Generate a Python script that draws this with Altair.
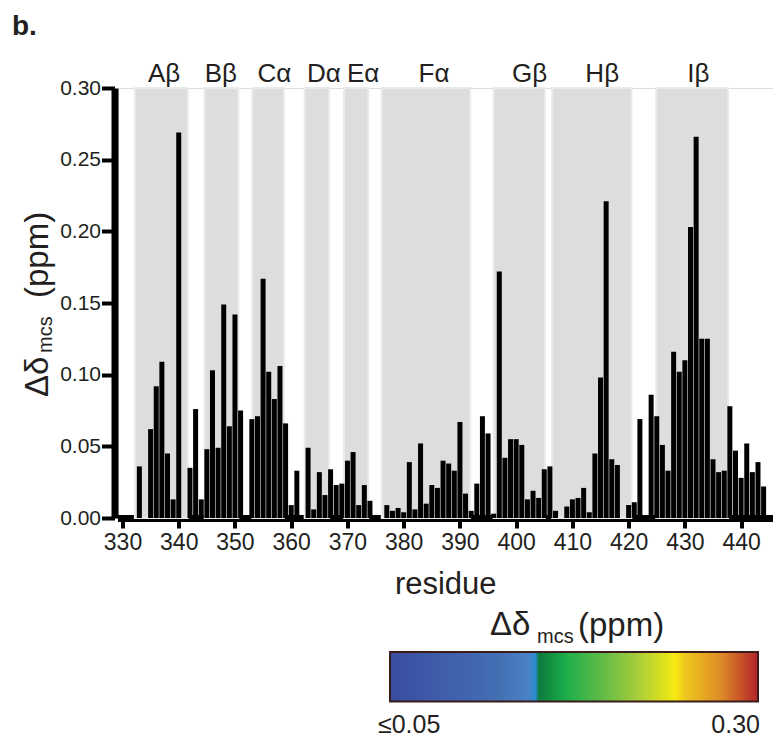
import altair as alt
import pandas as pd

# ---------------- data ----------------
residues = list(range(333, 445))
shifts = [
    0.036, 0.000, 0.062, 0.092, 0.109, 0.045, 0.013, 0.269, 0.000, 0.035,   # 333-342
    0.076, 0.013, 0.048, 0.103, 0.049, 0.149, 0.064, 0.142, 0.075, 0.000,   # 343-352
    0.069, 0.071, 0.167, 0.102, 0.083, 0.106, 0.066, 0.009, 0.033, 0.000,   # 353-362
    0.049, 0.006, 0.032, 0.016, 0.034, 0.023, 0.024, 0.040, 0.046, 0.009,   # 363-372
    0.023, 0.012, 0.000, 0.000, 0.009, 0.005, 0.007, 0.004, 0.039, 0.006,   # 373-382
    0.052, 0.010, 0.023, 0.021, 0.040, 0.038, 0.033, 0.067, 0.017, 0.005,   # 383-392
    0.024, 0.071, 0.059, 0.003, 0.172, 0.042, 0.055, 0.055, 0.051, 0.013,   # 393-402
    0.019, 0.014, 0.034, 0.036, 0.005, 0.000, 0.008, 0.013, 0.014, 0.021,   # 403-412
    0.004, 0.045, 0.098, 0.221, 0.041, 0.037, 0.000, 0.009, 0.011, 0.069,   # 413-422
    0.000, 0.086, 0.071, 0.051, 0.033, 0.116, 0.102, 0.110, 0.203, 0.266,   # 423-432
    0.125, 0.125, 0.041, 0.032, 0.033, 0.078, 0.047, 0.028, 0.052, 0.032,   # 433-442
    0.039, 0.022,                                                           # 443-444
]

band_names = ["Aβ", "Bβ", "Cα", "Dα", "Eα", "Fα", "Gβ", "Hβ", "Iβ"]
band_start = [332.2, 344.6, 353.1, 362.4, 369.4, 376.1, 396.0, 406.4, 424.9]
band_end = [341.6, 350.6, 358.7, 366.7, 373.7, 391.8, 405.1, 420.5, 437.7]
band_label_x = [337.4, 347.5, 357.0, 365.8, 372.8, 385.4, 402.4, 415.3, 432.4]
band_top = 0.30

x_ticks = [330, 340, 350, 360, 370, 380, 390, 400, 410, 420, 430, 440]
y_ticks = [0.00, 0.05, 0.10, 0.15, 0.20, 0.25, 0.30]

cbar_offsets = [0.0, 0.30, 0.375, 0.395, 0.405, 0.48, 0.58, 0.67, 0.775, 0.80, 0.90, 1.0]
cbar_colors = ["#3a4c9f", "#4470b4", "#4a82c3", "#2a8dd0", "#0b7a3c", "#1eaf4b",
               "#62bc46", "#a6cc3a", "#f6ea12", "#efc81d", "#de8a28", "#b3242a"]
cbar_low_label = "≤0.05"
cbar_high_label = "0.30"

# ---------------- layout ----------------
FONT = "Liberation Sans"
TXT = "#231f20"
W, H = 655.5, 430
PAD_L, PAD_T = 117.5, 88

bars_df = pd.DataFrame({"residue": residues, "shift": shifts})
bands_df = pd.DataFrame({"name": band_names, "start": band_start, "end": band_end,
                         "lx": band_label_x, "top": [band_top] * len(band_names),
                         "bottom": [0.0] * len(band_names)})

x_scale = alt.Scale(domain=[330, 444.78], nice=False, zero=False)
y_scale = alt.Scale(domain=[0, 0.30], nice=False)

x_axis = alt.Axis(values=x_ticks, format="d", labelFontSize=23, labelFont=FONT,
                  labelColor=TXT, tickSize=10, tickWidth=4, tickColor="#000",
                  domainWidth=7, domainColor="#000", labelPadding=3, grid=False,
                  title="residue", titleFont=FONT, titleFontSize=31,
                  titleFontWeight="normal", titleColor=TXT,
                  titleBaseline="alphabetic", titleY=75)
y_axis = alt.Axis(values=y_ticks, format=".2f", labelFontSize=21, labelFont=FONT,
                  labelColor=TXT, tickSize=13, tickWidth=4, tickColor="#000",
                  domainWidth=7, domainColor="#000", labelPadding=1, grid=False,
                  offset=3, title=None)

bands = alt.Chart(bands_df).mark_rect(fill="#dcdddd", stroke="#e9eaea", strokeWidth=2).encode(
    x=alt.X("start:Q", scale=x_scale, axis=x_axis),
    x2="end:Q",
    y=alt.Y("top:Q", scale=y_scale, axis=y_axis),
    y2="bottom:Q",
)

bars = alt.Chart(bars_df).mark_bar(size=5.0, color="#000000").encode(
    x=alt.X("residue:Q", scale=x_scale, axis=x_axis),
    y=alt.Y("shift:Q", scale=y_scale, axis=y_axis),
)

band_labels = alt.Chart(bands_df).mark_text(
    font=FONT, fontSize=26, color=TXT, align="center", baseline="alphabetic"
).encode(
    x=alt.X("lx:Q", scale=x_scale, axis=x_axis),
    y=alt.value(-6),
    text="name:N",
)


def label(txt, x, y, size, angle=0, align="left", weight="normal"):
    return alt.Chart(pd.DataFrame({"t": [txt]})).mark_text(
        font=FONT, fontSize=size, color=TXT, align=align, baseline="alphabetic",
        angle=angle, fontWeight=weight
    ).encode(x=alt.value(x), y=alt.value(y), text="t:N")


panel = label("b.", -105.5, -53, 28, weight="bold")

# y-axis title  Δδ_mcs (ppm), rotated
yt1 = label("Δδ", -69.2, 309, 33, angle=270)
yt2 = label("mcs", -65.5, 265, 20, angle=270)
yt3 = label("(ppm)", -69.2, 210, 33, angle=270)

# colour bar
cbar = alt.Chart(pd.DataFrame({"a": [0]})).mark_rect(
    fill=alt.LinearGradient(
        gradient="linear", x1=0, x2=1, y1=0, y2=0,
        stops=[alt.GradientStop(offset=o, color=c) for o, c in zip(cbar_offsets, cbar_colors)],
    ),
    stroke="#3a1c1c", strokeWidth=2,
).encode(x=alt.value(272.5), x2=alt.value(640.5), y=alt.value(564), y2=alt.value(613.5))

ct1 = label("Δδ", 372.5, 547, 33)
ct2 = label("mcs", 419.5, 555, 20)
ct3 = label("(ppm)", 460.5, 548, 33)
cl1 = label(cbar_low_label, 260.5, 645, 25)
cl2 = label(cbar_high_label, 642.5, 645, 25, align="right")

chart = alt.layer(
    bands, bars, band_labels, panel, yt1, yt2, yt3, cbar, ct1, ct2, ct3, cl1, cl2
).properties(
    width=W, height=H,
    autosize=alt.AutoSizeParams(type="none"),
    padding={"left": PAD_L, "top": PAD_T, "right": 0, "bottom": 741 - PAD_T - H},
).configure_view(strokeWidth=0).configure(background="white")

chart.save("out.html", embed_options={"renderer": "svg", "actions": False})
